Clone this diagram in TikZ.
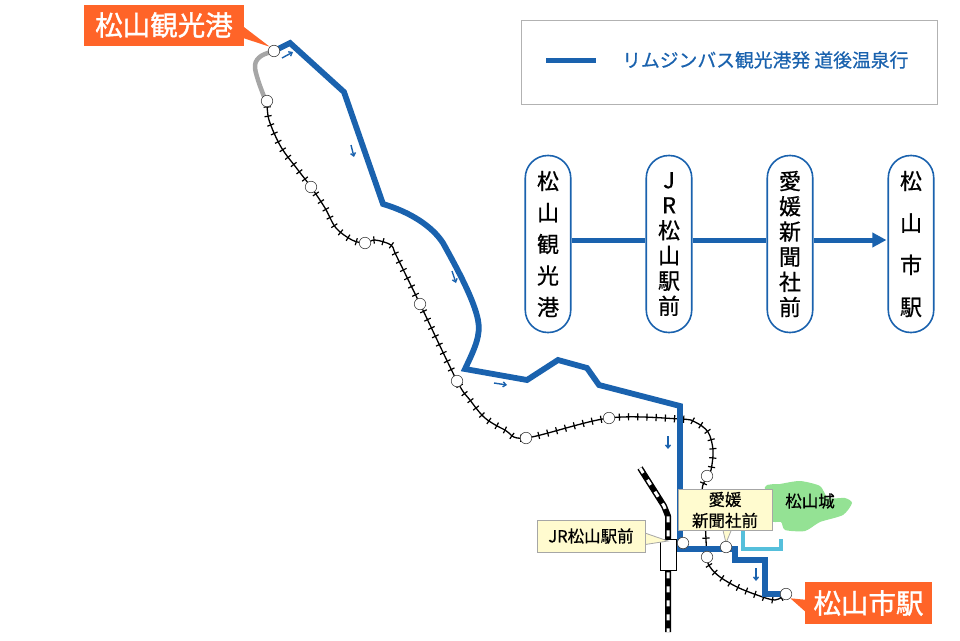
\documentclass[tikz,border=0pt]{standalone}
\usepackage{fontspec}
\setmainfont{Noto Sans CJK JP}[FakeBold=0.6]
\newfontfamily\tagfont{Noto Sans CJK JP}[FakeBold=1.3]
\usetikzlibrary{decorations.markings,arrows.meta}
\definecolor{routeblue}{HTML}{1A62AE}
\definecolor{tagorange}{HTML}{FF6428}
\definecolor{castlegreen}{HTML}{94E294}
\definecolor{moatcyan}{HTML}{55BFDB}
\definecolor{tagyellow}{HTML}{FFFBCF}
\tikzset{
  route/.style={draw=routeblue,line width=5.8pt,line join=miter},
  stripline/.style={draw=routeblue,line width=5pt},
  railway/.style={draw=black,line width=1.3pt,postaction={decorate},
    decoration={markings,mark=between positions 6pt and -3pt step 9.2pt with {\draw[line width=1.2pt] (0,-3.6pt)--(0,3.6pt);}}},
  stn/.style={circle,draw=black!75,fill=white,line width=.6pt,minimum size=11.5pt,inner sep=0pt},
  dirarrow/.style={draw=routeblue,line width=1.4pt,-{Straight Barb[length=3pt,width=5pt]}},
  tagbox/.style={fill=tagorange,text=white,inner sep=0pt,anchor=center,font=\fontsize{27.5}{30}\selectfont\tagfont},
  notebox/.style={fill=tagyellow,draw=black!35,line width=.9pt,inner sep=0pt,align=center,text=black},
  pill/.style={draw=routeblue,fill=white,line width=1.6pt,rounded corners=22.5pt,minimum width=45.5pt,minimum height=177pt,inner sep=0pt,align=center,text=black},
}
\begin{document}
\begin{tikzpicture}[x=1pt,y=-1pt]
\useasboundingbox (0,0) rectangle (960,640);
% legend
\node[draw=black!30,line width=.9pt,minimum width=416pt,minimum height=84pt,inner sep=0pt] (legend) at (729,62) {};
\coordinate (la) at (546,60); \coordinate (lb) at (596,60);
\draw[stripline] (la)--(lb);
\node[text=routeblue,anchor=west,inner sep=0pt,font=\fontsize{18.8}{20}\selectfont] (legendtext) at (622,60) {リムジンバス観光港発 道後温泉行};
% strip diagram
\node[pill,font=\fontsize{22}{31.5}\selectfont] (p1) at (548,244) {松\\山\\観\\光\\港};
\node[pill,font=\fontsize{22}{25.2}\selectfont] (p2) at (669,244) {J\\R\\松\\山\\駅\\前};
\node[pill,font=\fontsize{22}{25.2}\selectfont] (p3) at (790,244) {愛\\媛\\新\\聞\\社\\前};
\node[pill,font=\fontsize{22}{42}\selectfont] (p4) at (911,244) {松\\山\\市\\駅};
\draw[stripline] (p1.east |- 0,240)--(p2.west |- 0,240);
\draw[stripline] (p2.east |- 0,240)--(p3.west |- 0,240);
\draw[stripline,-{Triangle[length=14pt,width=14pt]},shorten >=1pt] (p3.east |- 0,240)--(p4.west |- 0,240);
% castle
\fill[castlegreen] plot[smooth cycle,tension=.4] coordinates {(765,487)(780,484)(800,481)(820,486)(828,498)(845,498)(852,503)(843,515)(820,522)(805,531)(785,530)(781,522)(770,520)};
\node[font=\fontsize{16.5}{18}\selectfont,inner sep=0pt] (castle) at (810,501) {松山城};
% JR main line
\draw[line width=6pt,black,line join=round] (640,468)--(664,506)--(668,516)--(668,632);
\draw[line width=3pt,white,dash pattern=on 6pt off 8pt] (640,468)--(664,506)--(668,516)--(668,632);
% local rail
\draw[railway] plot[smooth,tension=.55] coordinates {(267,101)(269,120)(281,147)(298,170)(311,187)(325,208)(336,228)(352,240)(365,243)(375,240)(391,245)(396,255)(420,304)(457,381)(470,400)(485,418)(505,430)(526,438)(609,418)(680,419)(695,422)(708,432)(713,450)(711,470)(707,477)(702,490)(705,520)(707,557)(710,567)(720,577)(737,587)(757,595)(775,600)(786,594)};
% moat
\draw[moatcyan,line width=4pt] (743,528)--(743,549)--(781,549)--(781,539);
% tram lines
\draw[draw=black!35,line width=4.5pt,line cap=round] plot[smooth,tension=.6] coordinates {(274,51)(261,56)(255,65)(258,80)(265,99)};
\draw[route] (274,51)--(290,43)--(344,92)--(383,204) .. controls (410,212) and (432,226) .. (443,243) .. controls (458,270) and (474,300) .. (478,320) .. controls (481,335) and (475,348) .. (465,369) -- (527,380)--(558,360)--(587,368)--(599,385)--(680,406)--(680,549)--(735,549)--(735,560)--(765,560)--(765,594)--(786,594);
% direction arrows
\draw[dirarrow] (282,58)--(293,52);
\draw[dirarrow] (351,145)--(354,157);
\draw[dirarrow] (452,271)--(456,283);
\draw[dirarrow] (494,383)--(507,385);
\draw[dirarrow] (668,436)--(668,449);
\draw[dirarrow] (756,568)--(756,581);
% station block
\node[draw=black,fill=white,line width=.8pt,minimum width=16pt,minimum height=31pt,inner sep=0pt] (jrblock) at (668,555) {};
% yellow notes
\fill[tagyellow,draw=black!35,line width=.8pt] (642,532)--(668,541)--(642,545)--cycle;
\fill[tagyellow,draw=black!35,line width=.8pt] (722,526)--(726,543)--(733,526)--cycle;
\node[notebox,minimum width=108pt,minimum height=32pt,font=\fontsize{16.5}{18}\selectfont] (jrnote) at (591,536) {JR松山駅前};
\node[notebox,minimum width=94pt,minimum height=41pt,font=\fontsize{16.5}{21}\selectfont] (ehnote) at (725,510) {愛媛\\新聞社前};
% stations
\node[stn] (s1) at (274,51) {};
\node[stn] (s2) at (267,101) {};
\node[stn] (s3) at (311,187) {};
\node[stn] (s4) at (365,243) {};
\node[stn] (s5) at (420,304) {};
\node[stn] (s6) at (457,381) {};
\node[stn] (s7) at (526,438) {};
\node[stn] (s8) at (609,418) {};
\node[stn] (s9) at (707,476) {};
\node[stn] (s10) at (707,557) {};
\node[stn] (s11) at (786,594) {};
\node[stn] (s12) at (726,547) {};
\node[stn] (s13) at (683,543) {};
% orange tags
\fill[tagorange] (240,24)--(s1.north west)--(240,37)--cycle;
\fill[tagorange] (s11.south east)--(808,600)--(808,614)--cycle;
\node[tagbox,minimum width=160pt,minimum height=41pt] (tag1) at (164,25) {松山観光港};
\node[tagbox,minimum width=127pt,minimum height=42pt] (tag2) at (868.5,603) {松山市駅};
\end{tikzpicture}
\end{document}
